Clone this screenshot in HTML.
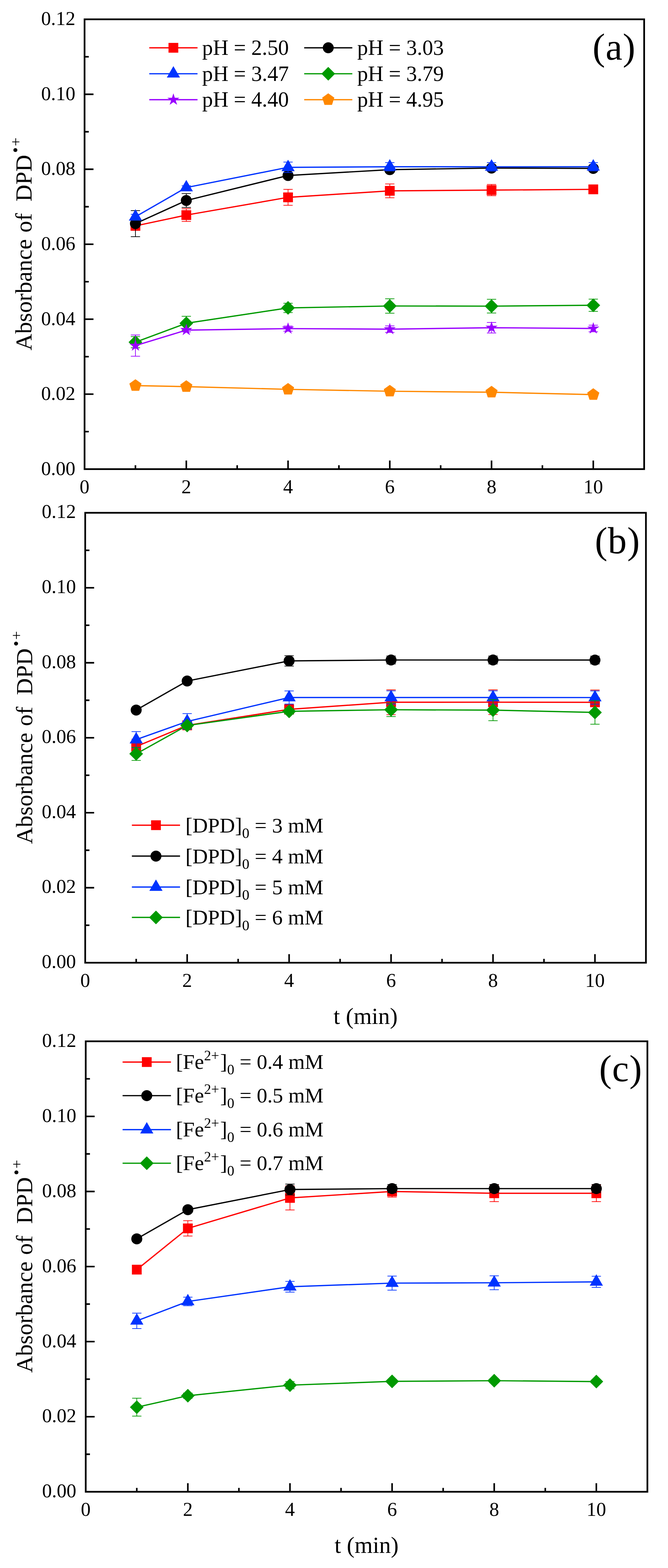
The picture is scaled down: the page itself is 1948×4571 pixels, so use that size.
<!DOCTYPE html><html><head><meta charset="utf-8"><title>Absorbance of DPD radical cation vs time</title><style>html,body{margin:0;padding:0;background:#fff}svg{display:block}text{font-family:'Liberation Serif','Times New Roman',serif;fill:#000}</style></head><body>
<svg width="1948" height="4571" viewBox="0 0 1948 4571">
<rect width="1948" height="4571" fill="#fff"/>
<polyline points="394.95,658.5 543.3,627 840,575.3 1136.7,556.3 1433.4,554.2 1730.1,552" fill="none" stroke="#ff0000" stroke-width="3.7" stroke-linejoin="round"/>
<path d="M394.95 646.5V670.5M381.45 646.5H408.45M381.45 670.5H408.45" stroke="#ff0000" stroke-width="2.0" fill="none"/>
<path d="M543.3 608.5V645.5M529.8 608.5H556.8M529.8 645.5H556.8" stroke="#ff0000" stroke-width="2.0" fill="none"/>
<path d="M840 552V598.6M826.5 552H853.5M826.5 598.6H853.5" stroke="#ff0000" stroke-width="2.0" fill="none"/>
<path d="M1136.7 536.2V576.4M1123.2 536.2H1150.2M1123.2 576.4H1150.2" stroke="#ff0000" stroke-width="2.0" fill="none"/>
<path d="M1433.4 537.8V570.6M1419.9 537.8H1446.9M1419.9 570.6H1446.9" stroke="#ff0000" stroke-width="2.0" fill="none"/>
<path d="M1730.1 544V560M1716.6 544H1743.6M1716.6 560H1743.6" stroke="#ff0000" stroke-width="2.0" fill="none"/>
<rect x="380.7" y="644.25" width="28.5" height="28.5" fill="#ff0000"/>
<rect x="529.05" y="612.75" width="28.5" height="28.5" fill="#ff0000"/>
<rect x="825.75" y="561.05" width="28.5" height="28.5" fill="#ff0000"/>
<rect x="1122.45" y="542.05" width="28.5" height="28.5" fill="#ff0000"/>
<rect x="1419.15" y="539.95" width="28.5" height="28.5" fill="#ff0000"/>
<rect x="1715.85" y="537.75" width="28.5" height="28.5" fill="#ff0000"/>
<polyline points="394.95,651.9 543.3,584.5 840,511.6 1136.7,494.6 1433.4,489.9 1730.1,490.9" fill="none" stroke="#000000" stroke-width="3.7" stroke-linejoin="round"/>
<path d="M394.95 613.9V689.9M381.45 613.9H408.45M381.45 689.9H408.45" stroke="#000000" stroke-width="2.0" fill="none"/>
<path d="M543.3 564.15V604.85M529.8 564.15H556.8M529.8 604.85H556.8" stroke="#000000" stroke-width="2.0" fill="none"/>
<path d="M840 502.6V520.6M826.5 502.6H853.5M826.5 520.6H853.5" stroke="#000000" stroke-width="2.0" fill="none"/>
<path d="M1136.7 486.6V502.6M1123.2 486.6H1150.2M1123.2 502.6H1150.2" stroke="#000000" stroke-width="2.0" fill="none"/>
<path d="M1433.4 481.9V497.9M1419.9 481.9H1446.9M1419.9 497.9H1446.9" stroke="#000000" stroke-width="2.0" fill="none"/>
<path d="M1730.1 482.9V498.9M1716.6 482.9H1743.6M1716.6 498.9H1743.6" stroke="#000000" stroke-width="2.0" fill="none"/>
<circle cx="394.95" cy="651.9" r="16" fill="#000000"/>
<circle cx="543.3" cy="584.5" r="16" fill="#000000"/>
<circle cx="840" cy="511.6" r="16" fill="#000000"/>
<circle cx="1136.7" cy="494.6" r="16" fill="#000000"/>
<circle cx="1433.4" cy="489.9" r="16" fill="#000000"/>
<circle cx="1730.1" cy="490.9" r="16" fill="#000000"/>
<polyline points="394.95,631.9 543.3,546.7 840,487.8 1136.7,486.1 1433.4,486.3 1730.1,486.1" fill="none" stroke="#0033ff" stroke-width="3.7" stroke-linejoin="round"/>
<path d="M394.95 624.8V639M381.45 624.8H408.45M381.45 639H408.45" stroke="#0033ff" stroke-width="2.0" fill="none"/>
<path d="M543.3 541.4V552M529.8 541.4H556.8M529.8 552H556.8" stroke="#0033ff" stroke-width="2.0" fill="none"/>
<path d="M840 472.5V503.1M826.5 472.5H853.5M826.5 503.1H853.5" stroke="#0033ff" stroke-width="2.0" fill="none"/>
<path d="M1136.7 473.9V498.3M1123.2 473.9H1150.2M1123.2 498.3H1150.2" stroke="#0033ff" stroke-width="2.0" fill="none"/>
<path d="M1433.4 473.9V498.7M1419.9 473.9H1446.9M1419.9 498.7H1446.9" stroke="#0033ff" stroke-width="2.0" fill="none"/>
<path d="M1730.1 473.9V498.3M1716.6 473.9H1743.6M1716.6 498.3H1743.6" stroke="#0033ff" stroke-width="2.0" fill="none"/>
<polygon points="394.95,609.67 414.2,643.01 375.7,643.01" fill="#0033ff"/>
<polygon points="543.3,524.47 562.55,557.81 524.05,557.81" fill="#0033ff"/>
<polygon points="840,465.57 859.25,498.91 820.75,498.91" fill="#0033ff"/>
<polygon points="1136.7,463.87 1155.95,497.21 1117.45,497.21" fill="#0033ff"/>
<polygon points="1433.4,464.07 1452.65,497.41 1414.15,497.41" fill="#0033ff"/>
<polygon points="1730.1,463.87 1749.35,497.21 1710.85,497.21" fill="#0033ff"/>
<polyline points="394.95,997.5 543.3,942.4 840,897.6 1136.7,892 1433.4,892.5 1730.1,889.9" fill="none" stroke="#009900" stroke-width="3.7" stroke-linejoin="round"/>
<path d="M394.95 981.2V1013.8M381.45 981.2H408.45M381.45 1013.8H408.45" stroke="#009900" stroke-width="2.0" fill="none"/>
<path d="M543.3 922.1V962.7M529.8 922.1H556.8M529.8 962.7H556.8" stroke="#009900" stroke-width="2.0" fill="none"/>
<path d="M840 883.9V911.3M826.5 883.9H853.5M826.5 911.3H853.5" stroke="#009900" stroke-width="2.0" fill="none"/>
<path d="M1136.7 871V913M1123.2 871H1150.2M1123.2 913H1150.2" stroke="#009900" stroke-width="2.0" fill="none"/>
<path d="M1433.4 872.5V912.5M1419.9 872.5H1446.9M1419.9 912.5H1446.9" stroke="#009900" stroke-width="2.0" fill="none"/>
<path d="M1730.1 872V907.8M1716.6 872H1743.6M1716.6 907.8H1743.6" stroke="#009900" stroke-width="2.0" fill="none"/>
<polygon points="394.95,977.5 414.95,997.5 394.95,1017.5 374.95,997.5" fill="#009900"/>
<polygon points="543.3,922.4 563.3,942.4 543.3,962.4 523.3,942.4" fill="#009900"/>
<polygon points="840,877.6 860,897.6 840,917.6 820,897.6" fill="#009900"/>
<polygon points="1136.7,872 1156.7,892 1136.7,912 1116.7,892" fill="#009900"/>
<polygon points="1433.4,872.5 1453.4,892.5 1433.4,912.5 1413.4,892.5" fill="#009900"/>
<polygon points="1730.1,869.9 1750.1,889.9 1730.1,909.9 1710.1,889.9" fill="#009900"/>
<polyline points="394.95,1007.6 543.3,962.3 840,958 1136.7,959.6 1433.4,955.3 1730.1,957.6" fill="none" stroke="#9900ff" stroke-width="3.7" stroke-linejoin="round"/>
<path d="M394.95 976.6V1038.6M381.45 976.6H408.45M381.45 1038.6H408.45" stroke="#9900ff" stroke-width="2.0" fill="none"/>
<path d="M543.3 957.3V967.3M529.8 957.3H556.8M529.8 967.3H556.8" stroke="#9900ff" stroke-width="2.0" fill="none"/>
<path d="M840 950.6V965.4M826.5 950.6H853.5M826.5 965.4H853.5" stroke="#9900ff" stroke-width="2.0" fill="none"/>
<path d="M1136.7 950.1V969.1M1123.2 950.1H1150.2M1123.2 969.1H1150.2" stroke="#9900ff" stroke-width="2.0" fill="none"/>
<path d="M1433.4 939.9V970.7M1419.9 939.9H1446.9M1419.9 970.7H1446.9" stroke="#9900ff" stroke-width="2.0" fill="none"/>
<path d="M1730.1 948V967.2M1716.6 948H1743.6M1716.6 967.2H1743.6" stroke="#9900ff" stroke-width="2.0" fill="none"/>
<polygon points="394.95,989.1 399.1,1001.88 412.54,1001.88 401.67,1009.78 405.82,1022.57 394.95,1014.67 384.08,1022.57 388.23,1009.78 377.36,1001.88 390.8,1001.88" fill="#9900ff"/>
<polygon points="543.3,943.8 547.45,956.58 560.89,956.58 550.02,964.48 554.17,977.27 543.3,969.37 532.43,977.27 536.58,964.48 525.71,956.58 539.15,956.58" fill="#9900ff"/>
<polygon points="840,939.5 844.15,952.28 857.59,952.28 846.72,960.18 850.87,972.97 840,965.07 829.13,972.97 833.28,960.18 822.41,952.28 835.85,952.28" fill="#9900ff"/>
<polygon points="1136.7,941.1 1140.85,953.88 1154.29,953.88 1143.42,961.78 1147.57,974.57 1136.7,966.67 1125.83,974.57 1129.98,961.78 1119.11,953.88 1132.55,953.88" fill="#9900ff"/>
<polygon points="1433.4,936.8 1437.55,949.58 1450.99,949.58 1440.12,957.48 1444.27,970.27 1433.4,962.37 1422.53,970.27 1426.68,957.48 1415.81,949.58 1429.25,949.58" fill="#9900ff"/>
<polygon points="1730.1,939.1 1734.25,951.88 1747.69,951.88 1736.82,959.78 1740.97,972.57 1730.1,964.67 1719.23,972.57 1723.38,959.78 1712.51,951.88 1725.95,951.88" fill="#9900ff"/>
<polyline points="394.95,1124.1 543.3,1127.1 840,1135 1136.7,1140.5 1433.4,1143.4 1730.1,1150.4" fill="none" stroke="#ff8800" stroke-width="3.7" stroke-linejoin="round"/>
<path d="M394.95 1120.1V1128.1M381.45 1120.1H408.45M381.45 1128.1H408.45" stroke="#ff8800" stroke-width="2.0" fill="none"/>
<path d="M543.3 1123.1V1131.1M529.8 1123.1H556.8M529.8 1131.1H556.8" stroke="#ff8800" stroke-width="2.0" fill="none"/>
<path d="M840 1131V1139M826.5 1131H853.5M826.5 1139H853.5" stroke="#ff8800" stroke-width="2.0" fill="none"/>
<path d="M1136.7 1136.5V1144.5M1123.2 1136.5H1150.2M1123.2 1144.5H1150.2" stroke="#ff8800" stroke-width="2.0" fill="none"/>
<path d="M1433.4 1139.4V1147.4M1419.9 1139.4H1446.9M1419.9 1147.4H1446.9" stroke="#ff8800" stroke-width="2.0" fill="none"/>
<path d="M1730.1 1146.4V1154.4M1716.6 1146.4H1743.6M1716.6 1154.4H1743.6" stroke="#ff8800" stroke-width="2.0" fill="none"/>
<polygon points="394.95,1105.5 412.64,1118.35 405.88,1139.15 384.02,1139.15 377.26,1118.35" fill="#ff8800"/>
<polygon points="543.3,1108.5 560.99,1121.35 554.23,1142.15 532.37,1142.15 525.61,1121.35" fill="#ff8800"/>
<polygon points="840,1116.4 857.69,1129.25 850.93,1150.05 829.07,1150.05 822.31,1129.25" fill="#ff8800"/>
<polygon points="1136.7,1121.9 1154.39,1134.75 1147.63,1155.55 1125.77,1155.55 1119.01,1134.75" fill="#ff8800"/>
<polygon points="1433.4,1124.8 1451.09,1137.65 1444.33,1158.45 1422.47,1158.45 1415.71,1137.65" fill="#ff8800"/>
<polygon points="1730.1,1131.8 1747.79,1144.65 1741.03,1165.45 1719.17,1165.45 1712.41,1144.65" fill="#ff8800"/>
<rect x="246.6" y="56.3" width="1631.85" height="1311.3" fill="none" stroke="#000" stroke-width="5"/>
<path d="M246.6 1258.32h12.3M246.6 1149.05h26M246.6 1039.77h12.3M246.6 930.5h26M246.6 821.22h12.3M246.6 711.95h26M246.6 602.67h12.3M246.6 493.4h26M246.6 384.12h12.3M246.6 274.85h26M246.6 165.57h12.3M394.95 1367.6v-11.3M543.3 1367.6v-25M691.65 1367.6v-11.3M840 1367.6v-25M988.35 1367.6v-11.3M1136.7 1367.6v-25M1285.05 1367.6v-11.3M1433.4 1367.6v-25M1581.75 1367.6v-11.3M1730.1 1367.6v-25" stroke="#000" stroke-width="4.6" fill="none"/>
<text x="219.7" y="1384.6" font-size="57" text-anchor="end">0.00</text>
<text x="219.7" y="1166.05" font-size="57" text-anchor="end">0.02</text>
<text x="219.7" y="947.5" font-size="57" text-anchor="end">0.04</text>
<text x="219.7" y="728.95" font-size="57" text-anchor="end">0.06</text>
<text x="219.7" y="510.4" font-size="57" text-anchor="end">0.08</text>
<text x="219.7" y="291.85" font-size="57" text-anchor="end">0.10</text>
<text x="219.7" y="73.3" font-size="57" text-anchor="end">0.12</text>
<text x="246.6" y="1438.2" font-size="57" text-anchor="middle">0</text>
<text x="543.3" y="1438.2" font-size="57" text-anchor="middle">2</text>
<text x="840" y="1438.2" font-size="57" text-anchor="middle">4</text>
<text x="1136.7" y="1438.2" font-size="57" text-anchor="middle">6</text>
<text x="1433.4" y="1438.2" font-size="57" text-anchor="middle">8</text>
<text x="1730.1" y="1438.2" font-size="57" text-anchor="middle">10</text>
<text x="1727.96" y="174.17" font-size="110" letter-spacing="1.3">(a)</text>
<text transform="translate(92,1021.8) rotate(-90)" font-size="68">Absorbance <tspan dx="2">of</tspan><tspan dx="34">DPD</tspan><tspan font-size="47.5" dy="-30.7" dx="5.5">&#8226;</tspan><tspan font-size="45" dx="3">+</tspan></text>
<polyline points="397.15,2176.3 545.8,2114.5 843.1,2067.9 1140.4,2047.2 1437.7,2047 1735,2047.4" fill="none" stroke="#ff0000" stroke-width="3.7" stroke-linejoin="round"/>
<path d="M397.15 2155V2197.6M383.65 2155H410.65M383.65 2197.6H410.65" stroke="#ff0000" stroke-width="2.0" fill="none"/>
<path d="M545.8 2104.5V2124.5M532.3 2104.5H559.3M532.3 2124.5H559.3" stroke="#ff0000" stroke-width="2.0" fill="none"/>
<path d="M843.1 2053.9V2081.9M829.6 2053.9H856.6M829.6 2081.9H856.6" stroke="#ff0000" stroke-width="2.0" fill="none"/>
<path d="M1140.4 2011V2083.4M1126.9 2011H1153.9M1126.9 2083.4H1153.9" stroke="#ff0000" stroke-width="2.0" fill="none"/>
<path d="M1437.7 2011V2083M1424.2 2011H1451.2M1424.2 2083H1451.2" stroke="#ff0000" stroke-width="2.0" fill="none"/>
<path d="M1735 2011.4V2083.4M1721.5 2011.4H1748.5M1721.5 2083.4H1748.5" stroke="#ff0000" stroke-width="2.0" fill="none"/>
<rect x="382.9" y="2162.05" width="28.5" height="28.5" fill="#ff0000"/>
<rect x="531.55" y="2100.25" width="28.5" height="28.5" fill="#ff0000"/>
<rect x="828.85" y="2053.65" width="28.5" height="28.5" fill="#ff0000"/>
<rect x="1126.15" y="2032.95" width="28.5" height="28.5" fill="#ff0000"/>
<rect x="1423.45" y="2032.75" width="28.5" height="28.5" fill="#ff0000"/>
<rect x="1720.75" y="2033.15" width="28.5" height="28.5" fill="#ff0000"/>
<polyline points="397.15,2069.9 545.8,1985.3 843.1,1926.6 1140.4,1924 1437.7,1924 1735,1924.2" fill="none" stroke="#000000" stroke-width="3.7" stroke-linejoin="round"/>
<path d="M397.15 2063.9V2075.9M383.65 2063.9H410.65M383.65 2075.9H410.65" stroke="#000000" stroke-width="2.0" fill="none"/>
<path d="M545.8 1981.3V1989.3M532.3 1981.3H559.3M532.3 1989.3H559.3" stroke="#000000" stroke-width="2.0" fill="none"/>
<path d="M843.1 1911.4V1941.8M829.6 1911.4H856.6M829.6 1941.8H856.6" stroke="#000000" stroke-width="2.0" fill="none"/>
<path d="M1140.4 1912.6V1935.4M1126.9 1912.6H1153.9M1126.9 1935.4H1153.9" stroke="#000000" stroke-width="2.0" fill="none"/>
<path d="M1437.7 1912.6V1935.4M1424.2 1912.6H1451.2M1424.2 1935.4H1451.2" stroke="#000000" stroke-width="2.0" fill="none"/>
<path d="M1735 1912.8V1935.6M1721.5 1912.8H1748.5M1721.5 1935.6H1748.5" stroke="#000000" stroke-width="2.0" fill="none"/>
<circle cx="397.15" cy="2069.9" r="16" fill="#000000"/>
<circle cx="545.8" cy="1985.3" r="16" fill="#000000"/>
<circle cx="843.1" cy="1926.6" r="16" fill="#000000"/>
<circle cx="1140.4" cy="1924" r="16" fill="#000000"/>
<circle cx="1437.7" cy="1924" r="16" fill="#000000"/>
<circle cx="1735" cy="1924.2" r="16" fill="#000000"/>
<polyline points="397.15,2156.1 545.8,2103.2 843.1,2033.4 1140.4,2033.3 1437.7,2033.3 1735,2033.5" fill="none" stroke="#0033ff" stroke-width="3.7" stroke-linejoin="round"/>
<path d="M397.15 2132.7V2179.5M383.65 2132.7H410.65M383.65 2179.5H410.65" stroke="#0033ff" stroke-width="2.0" fill="none"/>
<path d="M545.8 2080.3V2126.1M532.3 2080.3H559.3M532.3 2126.1H559.3" stroke="#0033ff" stroke-width="2.0" fill="none"/>
<path d="M843.1 2014.2V2052.6M829.6 2014.2H856.6M829.6 2052.6H856.6" stroke="#0033ff" stroke-width="2.0" fill="none"/>
<path d="M1140.4 2014.1V2052.5M1126.9 2014.1H1153.9M1126.9 2052.5H1153.9" stroke="#0033ff" stroke-width="2.0" fill="none"/>
<path d="M1437.7 2014.1V2052.5M1424.2 2014.1H1451.2M1424.2 2052.5H1451.2" stroke="#0033ff" stroke-width="2.0" fill="none"/>
<path d="M1735 2014.3V2052.7M1721.5 2014.3H1748.5M1721.5 2052.7H1748.5" stroke="#0033ff" stroke-width="2.0" fill="none"/>
<polygon points="397.15,2133.87 416.4,2167.21 377.9,2167.21" fill="#0033ff"/>
<polygon points="545.8,2080.97 565.05,2114.31 526.55,2114.31" fill="#0033ff"/>
<polygon points="843.1,2011.17 862.35,2044.51 823.85,2044.51" fill="#0033ff"/>
<polygon points="1140.4,2011.07 1159.65,2044.41 1121.15,2044.41" fill="#0033ff"/>
<polygon points="1437.7,2011.07 1456.95,2044.41 1418.45,2044.41" fill="#0033ff"/>
<polygon points="1735,2011.27 1754.25,2044.61 1715.75,2044.61" fill="#0033ff"/>
<polyline points="397.15,2197.6 545.8,2115 843.1,2073.7 1140.4,2069 1437.7,2070.2 1735,2076.9" fill="none" stroke="#009900" stroke-width="3.7" stroke-linejoin="round"/>
<path d="M397.15 2178.4V2216.8M383.65 2178.4H410.65M383.65 2216.8H410.65" stroke="#009900" stroke-width="2.0" fill="none"/>
<path d="M545.8 2107V2123M532.3 2107H559.3M532.3 2123H559.3" stroke="#009900" stroke-width="2.0" fill="none"/>
<path d="M843.1 2065.7V2081.7M829.6 2065.7H856.6M829.6 2081.7H856.6" stroke="#009900" stroke-width="2.0" fill="none"/>
<path d="M1140.4 2049V2089M1126.9 2049H1153.9M1126.9 2089H1153.9" stroke="#009900" stroke-width="2.0" fill="none"/>
<path d="M1437.7 2039.5V2100.9M1424.2 2039.5H1451.2M1424.2 2100.9H1451.2" stroke="#009900" stroke-width="2.0" fill="none"/>
<path d="M1735 2042.5V2111.3M1721.5 2042.5H1748.5M1721.5 2111.3H1748.5" stroke="#009900" stroke-width="2.0" fill="none"/>
<polygon points="397.15,2177.6 417.15,2197.6 397.15,2217.6 377.15,2197.6" fill="#009900"/>
<polygon points="545.8,2095 565.8,2115 545.8,2135 525.8,2115" fill="#009900"/>
<polygon points="843.1,2053.7 863.1,2073.7 843.1,2093.7 823.1,2073.7" fill="#009900"/>
<polygon points="1140.4,2049 1160.4,2069 1140.4,2089 1120.4,2069" fill="#009900"/>
<polygon points="1437.7,2050.2 1457.7,2070.2 1437.7,2090.2 1417.7,2070.2" fill="#009900"/>
<polygon points="1735,2056.9 1755,2076.9 1735,2096.9 1715,2076.9" fill="#009900"/>
<rect x="248.5" y="1494.9" width="1635.15" height="1311.6" fill="none" stroke="#000" stroke-width="5"/>
<path d="M248.5 2697.2h12.3M248.5 2587.9h26M248.5 2478.6h12.3M248.5 2369.3h26M248.5 2260h12.3M248.5 2150.7h26M248.5 2041.4h12.3M248.5 1932.1h26M248.5 1822.8h12.3M248.5 1713.5h26M248.5 1604.2h12.3M397.15 2806.5v-11.3M545.8 2806.5v-25M694.45 2806.5v-11.3M843.1 2806.5v-25M991.75 2806.5v-11.3M1140.4 2806.5v-25M1289.05 2806.5v-11.3M1437.7 2806.5v-25M1586.35 2806.5v-11.3M1735 2806.5v-25" stroke="#000" stroke-width="4.6" fill="none"/>
<text x="221.5" y="2822" font-size="57" text-anchor="end">0.00</text>
<text x="221.5" y="2603.4" font-size="57" text-anchor="end">0.02</text>
<text x="221.5" y="2384.8" font-size="57" text-anchor="end">0.04</text>
<text x="221.5" y="2166.2" font-size="57" text-anchor="end">0.06</text>
<text x="221.5" y="1947.6" font-size="57" text-anchor="end">0.08</text>
<text x="221.5" y="1729" font-size="57" text-anchor="end">0.10</text>
<text x="221.5" y="1510.4" font-size="57" text-anchor="end">0.12</text>
<text x="248.5" y="2877.1" font-size="57" text-anchor="middle">0</text>
<text x="545.8" y="2877.1" font-size="57" text-anchor="middle">2</text>
<text x="843.1" y="2877.1" font-size="57" text-anchor="middle">4</text>
<text x="1140.4" y="2877.1" font-size="57" text-anchor="middle">6</text>
<text x="1437.7" y="2877.1" font-size="57" text-anchor="middle">8</text>
<text x="1735" y="2877.1" font-size="57" text-anchor="middle">10</text>
<text x="1734.66" y="1613.27" font-size="110" letter-spacing="1.3">(b)</text>
<text transform="translate(93.5,2460.55) rotate(-90)" font-size="68">Absorbance <tspan dx="2">of</tspan><tspan dx="34">DPD</tspan><tspan font-size="47.5" dy="-30.7" dx="5.5">&#8226;</tspan><tspan font-size="45" dx="3">+</tspan></text>
<text x="1066.08" y="2984.5" font-size="68" text-anchor="middle">t (min)</text>
<polyline points="398.9,3701.2 547.8,3580.9 845.6,3492.2 1143.4,3473.3 1441.2,3478.6 1739,3478.6" fill="none" stroke="#ff0000" stroke-width="3.7" stroke-linejoin="round"/>
<path d="M398.9 3691.2V3711.2M385.4 3691.2H412.4M385.4 3711.2H412.4" stroke="#ff0000" stroke-width="2.0" fill="none"/>
<path d="M547.8 3558.6V3603.2M534.3 3558.6H561.3M534.3 3603.2H561.3" stroke="#ff0000" stroke-width="2.0" fill="none"/>
<path d="M845.6 3457.1V3527.3M832.1 3457.1H859.1M832.1 3527.3H859.1" stroke="#ff0000" stroke-width="2.0" fill="none"/>
<path d="M1143.4 3456.9V3489.7M1129.9 3456.9H1156.9M1129.9 3489.7H1156.9" stroke="#ff0000" stroke-width="2.0" fill="none"/>
<path d="M1441.2 3454.2V3503M1427.7 3454.2H1454.7M1427.7 3503H1454.7" stroke="#ff0000" stroke-width="2.0" fill="none"/>
<path d="M1739 3454.2V3503M1725.5 3454.2H1752.5M1725.5 3503H1752.5" stroke="#ff0000" stroke-width="2.0" fill="none"/>
<rect x="384.65" y="3686.95" width="28.5" height="28.5" fill="#ff0000"/>
<rect x="533.55" y="3566.65" width="28.5" height="28.5" fill="#ff0000"/>
<rect x="831.35" y="3477.95" width="28.5" height="28.5" fill="#ff0000"/>
<rect x="1129.15" y="3459.05" width="28.5" height="28.5" fill="#ff0000"/>
<rect x="1426.95" y="3464.35" width="28.5" height="28.5" fill="#ff0000"/>
<rect x="1724.75" y="3464.35" width="28.5" height="28.5" fill="#ff0000"/>
<polyline points="398.9,3611.4 547.8,3526.4 845.6,3467.7 1143.4,3465 1441.2,3465 1739,3465" fill="none" stroke="#000000" stroke-width="3.7" stroke-linejoin="round"/>
<path d="M398.9 3603.4V3619.4M385.4 3603.4H412.4M385.4 3619.4H412.4" stroke="#000000" stroke-width="2.0" fill="none"/>
<path d="M547.8 3518.4V3534.4M534.3 3518.4H561.3M534.3 3534.4H561.3" stroke="#000000" stroke-width="2.0" fill="none"/>
<path d="M845.6 3451.8V3483.6M832.1 3451.8H859.1M832.1 3483.6H859.1" stroke="#000000" stroke-width="2.0" fill="none"/>
<path d="M1143.4 3453V3477M1129.9 3453H1156.9M1129.9 3477H1156.9" stroke="#000000" stroke-width="2.0" fill="none"/>
<path d="M1441.2 3453V3477M1427.7 3453H1454.7M1427.7 3477H1454.7" stroke="#000000" stroke-width="2.0" fill="none"/>
<path d="M1739 3453V3477M1725.5 3453H1752.5M1725.5 3477H1752.5" stroke="#000000" stroke-width="2.0" fill="none"/>
<circle cx="398.9" cy="3611.4" r="16" fill="#000000"/>
<circle cx="547.8" cy="3526.4" r="16" fill="#000000"/>
<circle cx="845.6" cy="3467.7" r="16" fill="#000000"/>
<circle cx="1143.4" cy="3465" r="16" fill="#000000"/>
<circle cx="1441.2" cy="3465" r="16" fill="#000000"/>
<circle cx="1739" cy="3465" r="16" fill="#000000"/>
<polyline points="398.9,3850.5 547.8,3794 845.6,3751.1 1143.4,3740.5 1441.2,3739.5 1739,3736.8" fill="none" stroke="#0033ff" stroke-width="3.7" stroke-linejoin="round"/>
<path d="M398.9 3827.9V3873.1M385.4 3827.9H412.4M385.4 3873.1H412.4" stroke="#0033ff" stroke-width="2.0" fill="none"/>
<path d="M547.8 3781.6V3806.4M534.3 3781.6H561.3M534.3 3806.4H561.3" stroke="#0033ff" stroke-width="2.0" fill="none"/>
<path d="M845.6 3735.4V3766.8M832.1 3735.4H859.1M832.1 3766.8H859.1" stroke="#0033ff" stroke-width="2.0" fill="none"/>
<path d="M1143.4 3719.9V3761.1M1129.9 3719.9H1156.9M1129.9 3761.1H1156.9" stroke="#0033ff" stroke-width="2.0" fill="none"/>
<path d="M1441.2 3719.3V3759.7M1427.7 3719.3H1454.7M1427.7 3759.7H1454.7" stroke="#0033ff" stroke-width="2.0" fill="none"/>
<path d="M1739 3720.5V3753.1M1725.5 3720.5H1752.5M1725.5 3753.1H1752.5" stroke="#0033ff" stroke-width="2.0" fill="none"/>
<polygon points="398.9,3828.27 418.15,3861.61 379.65,3861.61" fill="#0033ff"/>
<polygon points="547.8,3771.77 567.05,3805.11 528.55,3805.11" fill="#0033ff"/>
<polygon points="845.6,3728.87 864.85,3762.21 826.35,3762.21" fill="#0033ff"/>
<polygon points="1143.4,3718.27 1162.65,3751.61 1124.15,3751.61" fill="#0033ff"/>
<polygon points="1441.2,3717.27 1460.45,3750.61 1421.95,3750.61" fill="#0033ff"/>
<polygon points="1739,3714.57 1758.25,3747.91 1719.75,3747.91" fill="#0033ff"/>
<polyline points="398.9,4102.2 547.8,4068.8 845.6,4038 1143.4,4026.9 1441.2,4025 1739,4027.6" fill="none" stroke="#009900" stroke-width="3.7" stroke-linejoin="round"/>
<path d="M398.9 4076.1V4128.3M385.4 4076.1H412.4M385.4 4128.3H412.4" stroke="#009900" stroke-width="2.0" fill="none"/>
<path d="M547.8 4061V4076.6M534.3 4061H561.3M534.3 4076.6H561.3" stroke="#009900" stroke-width="2.0" fill="none"/>
<path d="M845.6 4027.5V4048.5M832.1 4027.5H859.1M832.1 4048.5H859.1" stroke="#009900" stroke-width="2.0" fill="none"/>
<path d="M1143.4 4020.9V4032.9M1129.9 4020.9H1156.9M1129.9 4032.9H1156.9" stroke="#009900" stroke-width="2.0" fill="none"/>
<path d="M1441.2 4019V4031M1427.7 4019H1454.7M1427.7 4031H1454.7" stroke="#009900" stroke-width="2.0" fill="none"/>
<path d="M1739 4021.6V4033.6M1725.5 4021.6H1752.5M1725.5 4033.6H1752.5" stroke="#009900" stroke-width="2.0" fill="none"/>
<polygon points="398.9,4082.2 418.9,4102.2 398.9,4122.2 378.9,4102.2" fill="#009900"/>
<polygon points="547.8,4048.8 567.8,4068.8 547.8,4088.8 527.8,4068.8" fill="#009900"/>
<polygon points="845.6,4018 865.6,4038 845.6,4058 825.6,4038" fill="#009900"/>
<polygon points="1143.4,4006.9 1163.4,4026.9 1143.4,4046.9 1123.4,4026.9" fill="#009900"/>
<polygon points="1441.2,4005 1461.2,4025 1441.2,4045 1421.2,4025" fill="#009900"/>
<polygon points="1739,4007.6 1759,4027.6 1739,4047.6 1719,4027.6" fill="#009900"/>
<rect x="250" y="3035.6" width="1637.9" height="1313.2" fill="none" stroke="#000" stroke-width="5"/>
<path d="M250 4239.37h12.3M250 4129.93h26M250 4020.5h12.3M250 3911.07h26M250 3801.63h12.3M250 3692.2h26M250 3582.77h12.3M250 3473.33h26M250 3363.9h12.3M250 3254.47h26M250 3145.03h12.3M398.9 4348.8v-11.3M547.8 4348.8v-25M696.7 4348.8v-11.3M845.6 4348.8v-25M994.5 4348.8v-11.3M1143.4 4348.8v-25M1292.3 4348.8v-11.3M1441.2 4348.8v-25M1590.1 4348.8v-11.3M1739 4348.8v-25" stroke="#000" stroke-width="4.6" fill="none"/>
<text x="222.5" y="4365.3" font-size="57" text-anchor="end">0.00</text>
<text x="222.5" y="4146.43" font-size="57" text-anchor="end">0.02</text>
<text x="222.5" y="3927.57" font-size="57" text-anchor="end">0.04</text>
<text x="222.5" y="3708.7" font-size="57" text-anchor="end">0.06</text>
<text x="222.5" y="3489.83" font-size="57" text-anchor="end">0.08</text>
<text x="222.5" y="3270.97" font-size="57" text-anchor="end">0.10</text>
<text x="222.5" y="3052.1" font-size="57" text-anchor="end">0.12</text>
<text x="250" y="4419.4" font-size="57" text-anchor="middle">0</text>
<text x="547.8" y="4419.4" font-size="57" text-anchor="middle">2</text>
<text x="845.6" y="4419.4" font-size="57" text-anchor="middle">4</text>
<text x="1143.4" y="4419.4" font-size="57" text-anchor="middle">6</text>
<text x="1441.2" y="4419.4" font-size="57" text-anchor="middle">8</text>
<text x="1739" y="4419.4" font-size="57" text-anchor="middle">10</text>
<text x="1747.16" y="3151.67" font-size="110" letter-spacing="1.3">(c)</text>
<text transform="translate(94.3,4002.05) rotate(-90)" font-size="68">Absorbance <tspan dx="2">of</tspan><tspan dx="34">DPD</tspan><tspan font-size="47.5" dy="-30.7" dx="5.5">&#8226;</tspan><tspan font-size="45" dx="3">+</tspan></text>
<text x="1068.95" y="4527.2" font-size="68" text-anchor="middle">t (min)</text>
<path d="M435.3 139.3H576" stroke="#ff0000" stroke-width="3.7"/>
<rect x="491.4" y="125.05" width="28.5" height="28.5" fill="#ff0000"/>
<text x="589.6" y="159.8" font-size="62.6">pH = 2.50</text>
<path d="M887.1 139.3H1027.4" stroke="#000000" stroke-width="3.7"/>
<circle cx="957.25" cy="139.3" r="16" fill="#000000"/>
<text x="1041.7" y="159.8" font-size="62.6">pH = 3.03</text>
<path d="M435.3 215H576" stroke="#0033ff" stroke-width="3.7"/>
<polygon points="505.65,192.77 524.9,226.11 486.4,226.11" fill="#0033ff"/>
<text x="589.6" y="235.5" font-size="62.6">pH = 3.47</text>
<path d="M887.1 215H1027.4" stroke="#009900" stroke-width="3.7"/>
<polygon points="957.25,195 977.25,215 957.25,235 937.25,215" fill="#009900"/>
<text x="1041.7" y="235.5" font-size="62.6">pH = 3.79</text>
<path d="M435.3 290.6H576" stroke="#9900ff" stroke-width="3.7"/>
<polygon points="505.65,272.1 509.8,284.88 523.24,284.88 512.37,292.78 516.52,305.57 505.65,297.67 494.78,305.57 498.93,292.78 488.06,284.88 501.5,284.88" fill="#9900ff"/>
<text x="589.6" y="311.1" font-size="62.6">pH = 4.40</text>
<path d="M887.1 290.6H1027.4" stroke="#ff8800" stroke-width="3.7"/>
<polygon points="957.25,272 974.94,284.85 968.18,305.65 946.32,305.65 939.56,284.85" fill="#ff8800"/>
<text x="1041.7" y="311.1" font-size="62.6">pH = 4.95</text>
<path d="M384.6 2405.6H525" stroke="#ff0000" stroke-width="3.7"/>
<rect x="440.55" y="2391.35" width="28.5" height="28.5" fill="#ff0000"/>
<text x="540.7" y="2426.6" font-size="62">[DPD]<tspan font-size="42.5" dy="16.2">0</tspan><tspan dy="-16.2" dx="15.5">= 3 mM</tspan></text>
<path d="M384.6 2495.7H525" stroke="#000000" stroke-width="3.7"/>
<circle cx="454.8" cy="2495.7" r="16" fill="#000000"/>
<text x="540.7" y="2516.7" font-size="62">[DPD]<tspan font-size="42.5" dy="16.2">0</tspan><tspan dy="-16.2" dx="15.5">= 4 mM</tspan></text>
<path d="M384.6 2585.9H525" stroke="#0033ff" stroke-width="3.7"/>
<polygon points="454.8,2563.67 474.05,2597.01 435.55,2597.01" fill="#0033ff"/>
<text x="540.7" y="2606.9" font-size="62">[DPD]<tspan font-size="42.5" dy="16.2">0</tspan><tspan dy="-16.2" dx="15.5">= 5 mM</tspan></text>
<path d="M384.6 2674.4H525" stroke="#009900" stroke-width="3.7"/>
<polygon points="454.8,2654.4 474.8,2674.4 454.8,2694.4 434.8,2674.4" fill="#009900"/>
<text x="540.7" y="2695.4" font-size="62">[DPD]<tspan font-size="42.5" dy="16.2">0</tspan><tspan dy="-16.2" dx="15.5">= 6 mM</tspan></text>
<path d="M357.5 3096.1H498.5" stroke="#ff0000" stroke-width="3.7"/>
<rect x="413.75" y="3081.85" width="28.5" height="28.5" fill="#ff0000"/>
<text x="512.9" y="3115.7" font-size="61.5">[Fe<tspan font-size="41.5" dy="-24.6">2+</tspan><tspan dy="24.6" dx="3">]</tspan><tspan font-size="41.5" dy="16.5">0</tspan><tspan dy="-16.5" dx="15.4">= 0.4 mM</tspan></text>
<path d="M357.5 3194H498.5" stroke="#000000" stroke-width="3.7"/>
<circle cx="428" cy="3194" r="16" fill="#000000"/>
<text x="512.9" y="3213.6" font-size="61.5">[Fe<tspan font-size="41.5" dy="-24.6">2+</tspan><tspan dy="24.6" dx="3">]</tspan><tspan font-size="41.5" dy="16.5">0</tspan><tspan dy="-16.5" dx="15.4">= 0.5 mM</tspan></text>
<path d="M357.5 3293.2H498.5" stroke="#0033ff" stroke-width="3.7"/>
<polygon points="428,3270.97 447.25,3304.31 408.75,3304.31" fill="#0033ff"/>
<text x="512.9" y="3312.8" font-size="61.5">[Fe<tspan font-size="41.5" dy="-24.6">2+</tspan><tspan dy="24.6" dx="3">]</tspan><tspan font-size="41.5" dy="16.5">0</tspan><tspan dy="-16.5" dx="15.4">= 0.6 mM</tspan></text>
<path d="M357.5 3391H498.5" stroke="#009900" stroke-width="3.7"/>
<polygon points="428,3371 448,3391 428,3411 408,3391" fill="#009900"/>
<text x="512.9" y="3410.6" font-size="61.5">[Fe<tspan font-size="41.5" dy="-24.6">2+</tspan><tspan dy="24.6" dx="3">]</tspan><tspan font-size="41.5" dy="16.5">0</tspan><tspan dy="-16.5" dx="15.4">= 0.7 mM</tspan></text>
</svg></body></html>
